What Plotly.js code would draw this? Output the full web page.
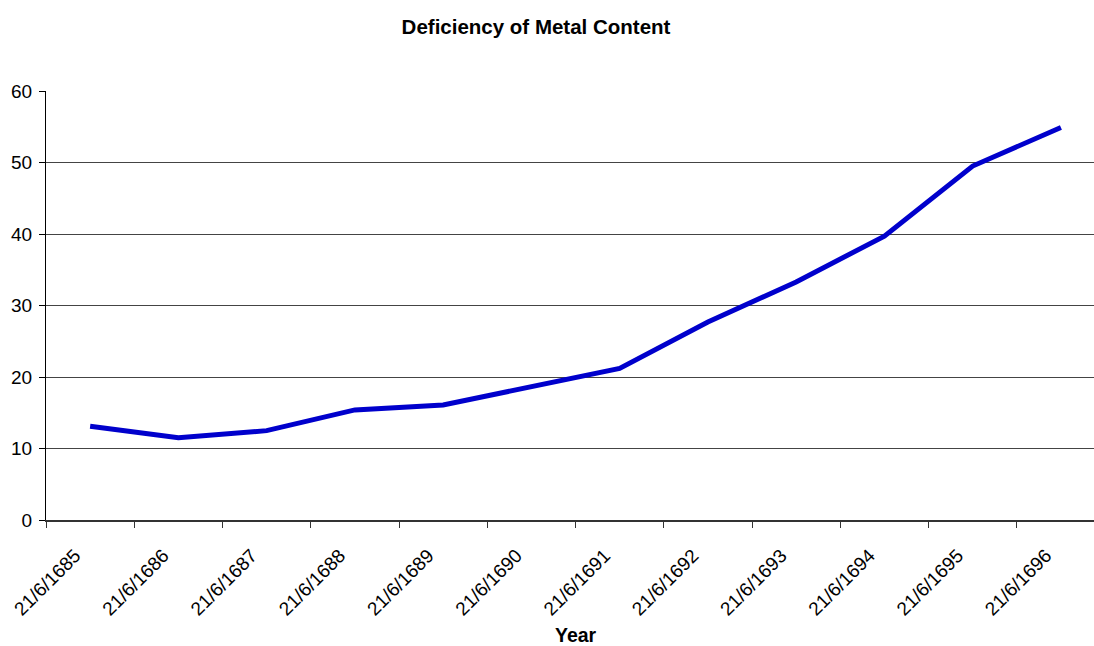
<!DOCTYPE html>
<html>
<head>
<meta charset="utf-8">
<script src="https://cdn.plot.ly/plotly-3.0.1.min.js"></script>
<style>html,body{margin:0;padding:0;background:#fff;}#chart{width:1094px;height:646px;}</style>
</head>
<body>
<div id="chart"></div>
<script>
const categories = ["21/6/1685","21/6/1686","21/6/1687","21/6/1688","21/6/1689","21/6/1690","21/6/1691","21/6/1692","21/6/1693","21/6/1694","21/6/1695","21/6/1696"];
const deficiency = [13.1, 11.5, 12.5, 15.4, 16.1, 18.7, 21.2, 27.7, 33.3, 39.7, 49.5, 54.9];
const yTicks = [0, 10, 20, 30, 40, 50, 60];

const font = "Arial, 'Liberation Sans', sans-serif";

const trace = {
  x: categories,
  y: deficiency,
  type: 'scatter',
  mode: 'lines',
  line: {color: '#0000CC', width: 5},
  hoverinfo: 'x+y'
};

const layout = {
  width: 1094,
  height: 646,
  paper_bgcolor: '#ffffff',
  plot_bgcolor: '#ffffff',
  margin: {l: 46, r: 0, t: 91, b: 126, pad: 0},
  showlegend: false,
  font: {family: font, color: '#000', size: 19},
  title: {
    text: '<b>Deficiency of Metal Content</b>',
    font: {family: font, size: 20.5, color: '#000'},
    xref: 'container', x: 536/1094, xanchor: 'center',
    yref: 'container', y: 1 - 27/646, yanchor: 'middle'
  },
  xaxis: {
    type: 'category',
    range: [-0.5, 11.375],
    showgrid: false,
    zeroline: false,
    showline: true,
    linecolor: '#333333',
    linewidth: 2,
    ticks: 'outside',
    tickson: 'boundaries',
    ticklen: 6,
    tickcolor: '#333333',
    tickangle: -45,
    ticklabelstandoff: 15,
    ticklabelshift: -15,
    tickfont: {family: font, size: 19, color: '#000'},
    fixedrange: true
  },
  yaxis: {
    range: [0, 60],
    tickvals: yTicks,
    showgrid: true,
    gridcolor: '#444444',
    gridwidth: 1,
    zeroline: false,
    showline: true,
    linecolor: '#000',
    linewidth: 1,
    ticks: 'outside',
    ticklen: 6,
    tickcolor: '#000',
    ticklabelstandoff: 3,
    tickfont: {family: font, size: 19, color: '#000'},
    fixedrange: true
  },
  annotations: [{
    text: '<b>Year</b>',
    xref: 'paper', x: (576 - 46) / 1048, xanchor: 'center',
    yref: 'paper', y: -(635 - 520) / 429, yanchor: 'middle',
    showarrow: false,
    font: {family: font, size: 19.5, color: '#000'}
  }]
};

Plotly.newPlot('chart', [trace], layout, {displayModeBar: false, staticPlot: true});
</script>
</body>
</html>
